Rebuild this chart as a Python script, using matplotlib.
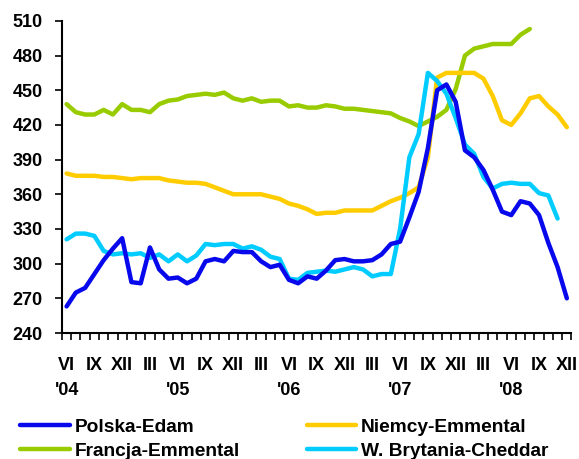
import numpy as np
import matplotlib.pyplot as plt

plt.rcParams['font.family'] = ['Liberation Sans', 'DejaVu Sans']
plt.rcParams['font.weight'] = 'bold'

# monthly prices, VI 2004 - XII 2008
polska_edam = [263, 275, 279, 291, 303, 313, 322, 284, 283, 314, 295, 287,
               288, 283, 287, 302, 304, 302, 311, 310, 310, 302, 297, 299,
               286, 283, 289, 287, 294, 303, 304, 302, 302, 303, 308, 317,
               319, 340, 362, 400, 450, 455, 440, 398, 392, 381, 364, 345,
               342, 354, 352, 342, 318, 297, 270]
niemcy_emmental = [378, 376, 376, 376, 375, 375, 374, 373, 374, 374, 374, 372,
                   371, 370, 370, 369, 366, 363, 360, 360, 360, 360, 358, 356,
                   352, 350, 347, 343, 344, 344, 346, 346, 346, 346, 350, 354,
                   357, 361, 366, 392, 461, 465, 465, 465, 465, 460, 445, 424,
                   420, 430, 443, 445, 436, 429, 418]
francja_emmental = [438, 431, 429, 429, 433, 429, 438, 433, 433, 431, 438, 441,
                    442, 445, 446, 447, 446, 448, 443, 441, 443, 440, 441, 441,
                    436, 437, 435, 435, 437, 436, 434, 434, 433, 432, 431, 430,
                    426, 423, 419, 423, 427, 433, 451, 480, 486, 488, 490, 490,
                    490, 498, 503, None, None, None, None]
wb_cheddar = [321, 326, 326, 324, 311, 308, 309, 308, 309, 305, 308, 302,
              308, 302, 307, 317, 316, 317, 317, 313, 315, 312, 306, 304,
              287, 286, 292, 293, 294, 293, 295, 297, 295, 289, 291, 291,
              330, 392, 412, 465, 458, 447, 426, 403, 395, 375, 365, 369,
              370, 369, 369, 361, 359, 339, None]

months = ['VI', 'IX', 'XII', 'III']
years = ["'04", "'05", "'06", "'07", "'08"]

series = [
    ('Polska-Edam', polska_edam, '#0808EC'),
    ('Francja-Emmental', francja_emmental, '#99CC00'),
    ('Niemcy-Emmental', niemcy_emmental, '#FFCC00'),
    ('W. Brytania-Cheddar', wb_cheddar, '#00CCFF'),
]

FS = 13.0      # tick labels
FS_LEG = 13.8  # legend
n = len(polska_edam)
x = np.arange(n)

fig = plt.figure(figsize=(5.79, 4.59), dpi=100)
ax = fig.add_axes([0.107, 0.2745, 0.880, 0.68])

lines = {}
for name, vals, col in series:
    y = np.array([np.nan if v is None else v for v in vals], dtype=float)
    ln, = ax.plot(x, y, color=col, lw=3.2, solid_joinstyle='round',
                  solid_capstyle='round', label=name)
    lines[name] = ln
# polska drawn above cheddar
lines['W. Brytania-Cheddar'].set_zorder(2)
lines['Polska-Edam'].set_zorder(2.5)

ax.set_xlim(-0.5, n - 0.5)
ax.set_ylim(240, 510)
ax.set_yticks(np.arange(240, 511, 30))

# tick marks between months, labels every quarter
ax.set_xticks(np.arange(-0.5, n, 1.0))
ax.set_xticklabels([])
lab_pos = np.arange(0, n, 3)
ax.set_xticks(lab_pos, minor=True)
labels = []
for k, p in enumerate(lab_pos):
    m = months[k % 4]
    if k % 4 == 0:
        labels.append(m + '\n' + years[k // 4])
    else:
        labels.append(m + '\n ')
ax.set_xticklabels(labels, minor=True, fontsize=FS, fontweight='bold',
                   linespacing=1.62)
ax.tick_params(axis='x', which='minor', length=0, pad=17)
ax.tick_params(axis='x', which='major', length=5, width=1.2, direction='out')
ax.tick_params(axis='y', length=5, width=1.2, labelsize=FS, pad=9)

for s in ['top', 'right']:
    ax.spines[s].set_visible(False)
for s in ['left', 'bottom']:
    ax.spines[s].set_linewidth(1.5)

handles = [lines[s[0]] for s in series]
fig.legend(handles, [s[0] for s in series], ncol=2, frameon=False,
           loc='lower left', bbox_to_anchor=(0.035, -0.002),
           borderpad=0, borderaxespad=0,
           fontsize=FS_LEG, handlelength=2.6, handletextpad=0.22,
           columnspacing=3.5, labelspacing=0.36)

fig.savefig('out.png', dpi=100)
